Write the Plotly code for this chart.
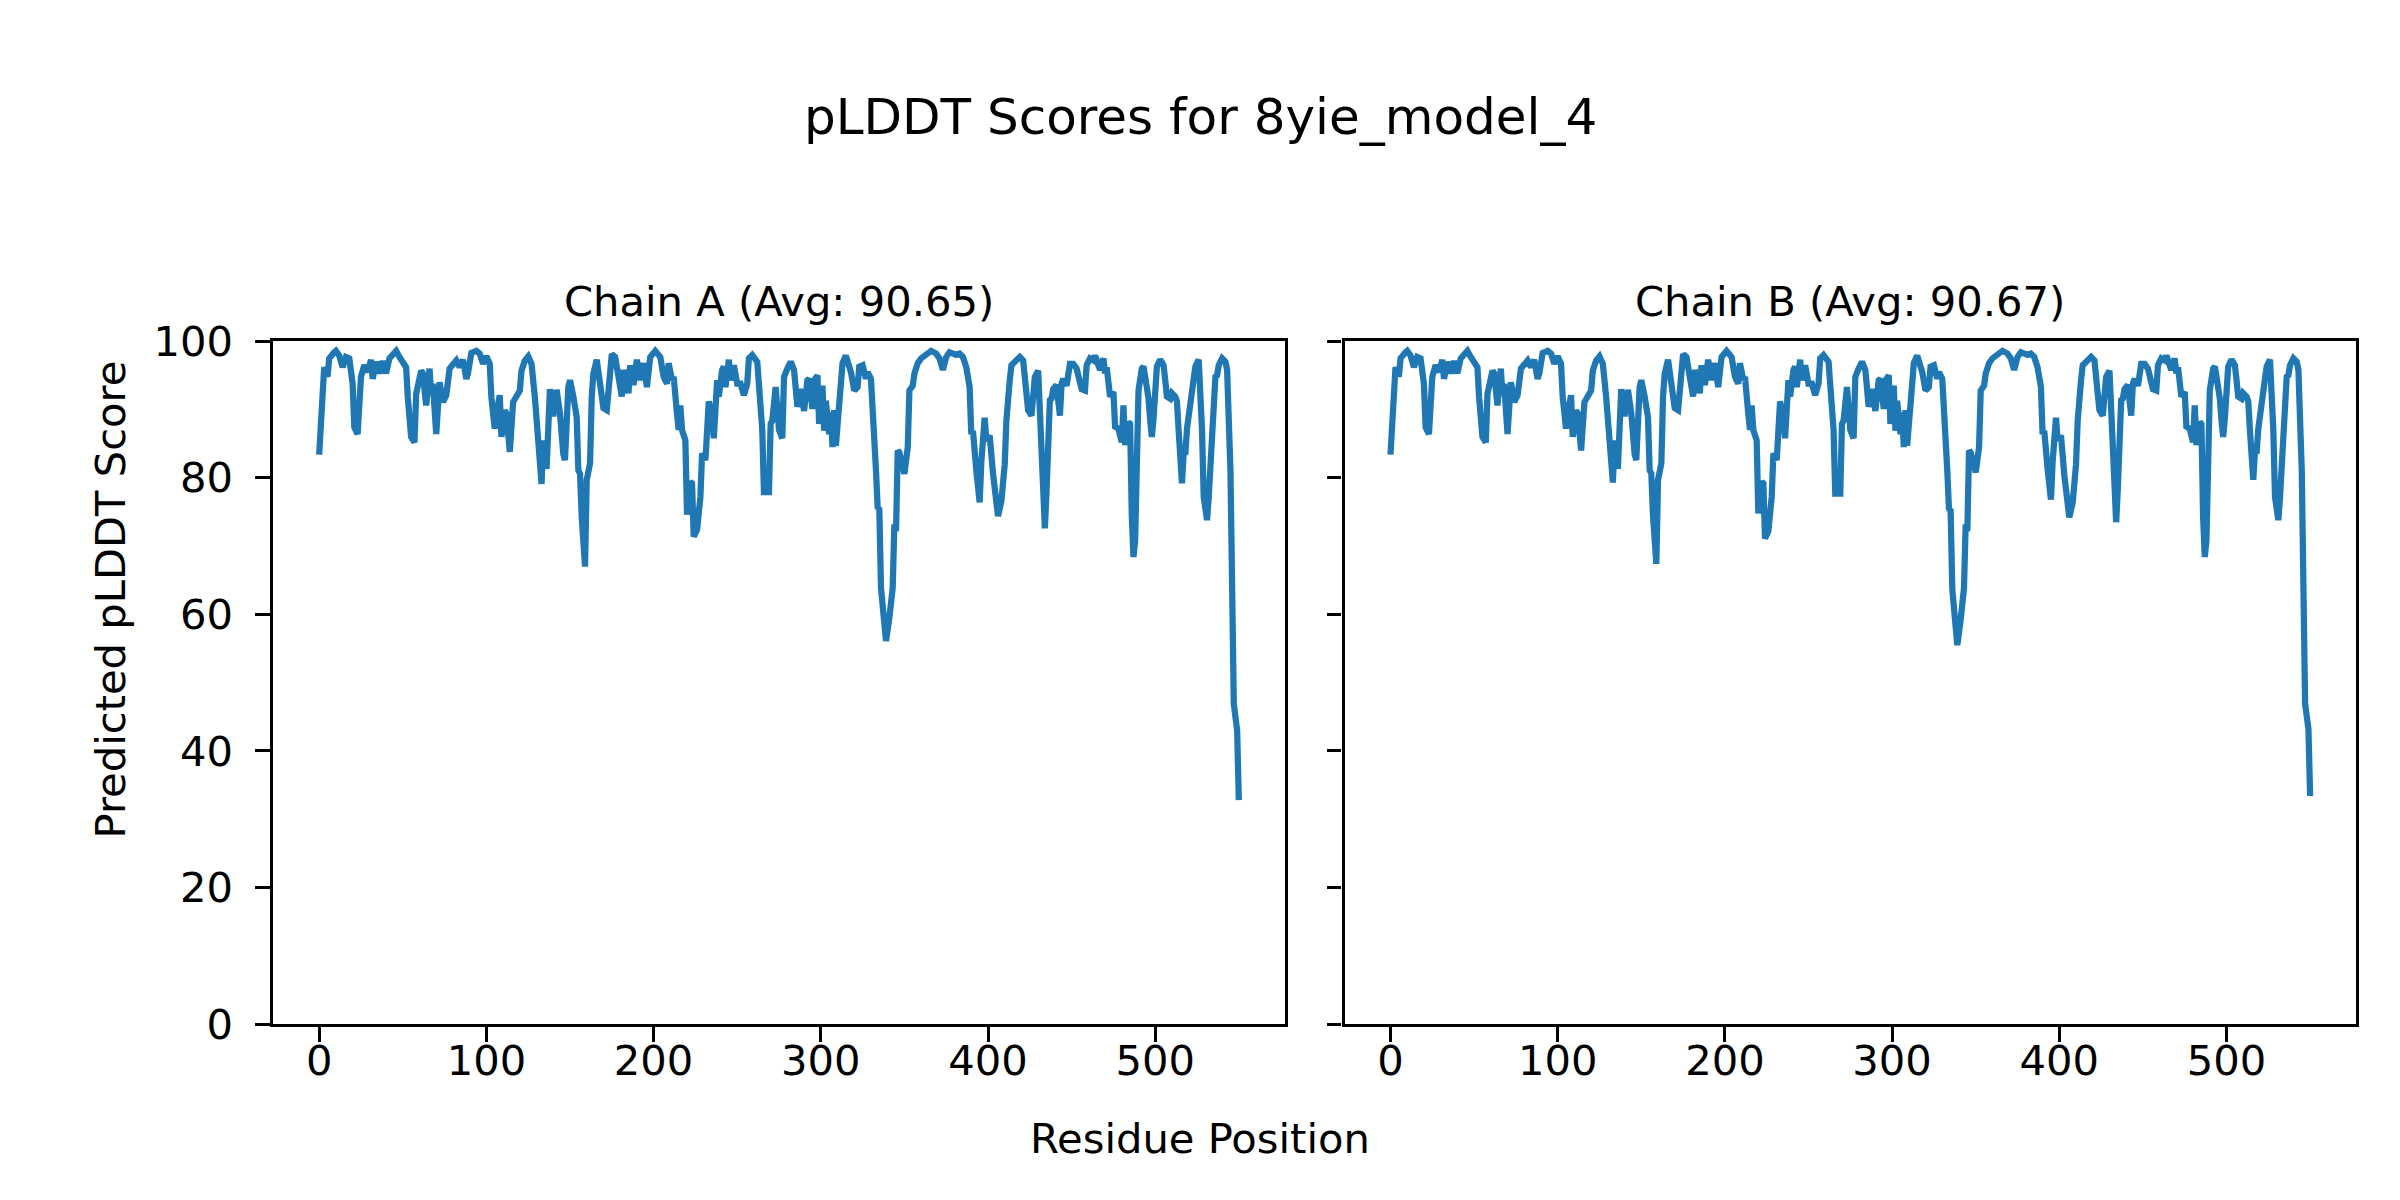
import plotly.graph_objects as go

# ---------------- data ----------------
residue_pos = [
    0, 2, 3, 5, 6, 9, 10, 12, 14, 16, 18, 20, 21, 23, 25, 27, 29, 31, 32, 34,
    36, 38, 40, 42, 46, 48, 50, 52, 53, 55, 57, 58, 61, 62, 64, 66, 67, 68, 70, 72,
    74, 76, 78, 80, 82, 84, 86, 88, 89, 91, 94, 96, 98, 100, 102, 103, 105, 106, 108, 109,
    111, 112, 114, 116, 118, 120, 121, 123, 125, 127, 129, 131, 133, 134, 136, 138, 140, 142, 144, 146,
    147, 149, 150, 152, 154, 155, 156, 157, 159, 160, 162, 163, 164, 166, 167, 169, 170, 172, 174, 175,
    177, 179, 181, 182, 184, 185, 186, 188, 190, 192, 194, 196, 198, 201, 204, 206, 208, 209, 211, 212,
    214, 215, 216, 217, 219, 220, 222, 223, 224, 226, 228, 229, 231, 232, 233, 235, 236, 238, 239, 241,
    242, 243, 245, 246, 248, 250, 252, 254, 256, 257, 259, 262, 263, 265, 266, 268, 269, 270, 271, 273,
    275, 277, 278, 280, 282, 284, 286, 288, 290, 292, 293, 295, 296, 298, 299, 300, 301, 302, 303, 305,
    306, 307, 308, 309, 311, 313, 315, 317, 318, 320, 322, 323, 325, 327, 328, 330, 331, 333, 334, 335,
    336, 337, 339, 341, 343, 344, 345, 346, 347, 350, 352, 353, 355, 356, 358, 360, 363, 366, 369, 371,
    373, 375, 377, 379, 381, 383, 385, 387, 389, 390, 391, 393, 395, 396, 397, 398, 399, 401, 403, 405,
    406, 408, 410, 411, 412, 413, 414, 417, 419, 421, 422, 424, 426, 427, 428, 430, 431, 432, 433, 434,
    435, 436, 437, 438, 439, 441, 442, 443, 444, 445, 447, 448, 449, 451, 453, 454, 456, 458, 459, 461,
    463, 464, 466, 467, 469, 470, 471, 472, 473, 475, 476, 478, 479, 480, 481, 482, 484, 485, 486, 487,
    488, 489, 490, 492, 493, 494, 496, 497, 498, 499, 500, 501, 503, 505, 506, 507, 509, 510, 512, 513,
    514, 515, 516, 517, 518, 519, 521, 523, 524, 526, 527, 528, 529, 530, 531, 532, 534, 535, 536, 537,
    538, 540, 542, 543, 544, 545, 547, 549, 550,
]

plddt_a = [
    83.4, 94.8, 96.2, 94.8, 97.5, 98.4, 98.6, 97.9, 96.2, 97.7, 97.5, 93.8, 87.4, 86.4, 94.8, 96.5, 95.5, 97.3, 94.5, 97.0,
    95.3, 97.1, 95.3, 97.5, 98.6, 97.7, 97.0, 96.2, 91.8, 86.0, 85.2, 92.3, 95.7, 95.3, 90.6, 96.0, 92.1, 93.8, 86.4, 94.0,
    91.1, 92.1, 96.0, 96.7, 97.2, 96.2, 97.3, 94.5, 95.3, 98.3, 98.6, 98.2, 96.7, 97.8, 96.7, 91.8, 87.2, 89.4, 92.1, 86.0,
    89.9, 89.4, 83.8, 91.1, 92.1, 92.8, 95.7, 97.2, 97.8, 96.7, 91.8, 85.5, 79.1, 85.5, 81.3, 93.0, 89.0, 92.9, 89.5, 83.5,
    82.6, 93.3, 94.3, 91.9, 88.9, 81.1, 80.6, 74.3, 67.0, 79.7, 82.1, 91.9, 95.3, 97.3, 95.8, 91.9, 90.2, 89.9, 96.8, 98.1,
    97.7, 94.3, 91.9, 95.8, 93.8, 92.4, 96.5, 93.6, 97.3, 94.3, 96.8, 93.3, 97.7, 98.6, 97.7, 94.8, 93.8, 96.8, 94.3, 94.8,
    89.4, 87.0, 90.6, 87.0, 85.5, 74.6, 79.4, 79.2, 71.4, 72.4, 77.2, 83.6, 82.6, 90.4, 91.2, 88.9, 85.8, 94.3, 91.9, 95.8,
    96.3, 93.3, 97.3, 94.3, 96.5, 93.8, 93.8, 92.1, 93.8, 97.5, 98.0, 97.0, 94.3, 87.0, 77.9, 77.9, 77.9, 87.9, 88.4, 93.3,
    87.0, 85.8, 94.8, 96.0, 97.0, 95.8, 90.4, 93.0, 89.8, 94.3, 94.5, 90.1, 94.3, 95.0, 87.9, 90.4, 93.5, 86.9, 91.3, 86.4,
    89.6, 84.5, 89.9, 84.7, 91.9, 96.8, 97.9, 96.2, 95.5, 92.8, 93.3, 96.3, 96.5, 94.5, 95.5, 94.5, 90.9, 81.1, 75.7, 75.4,
    63.9, 61.0, 56.1, 59.5, 63.9, 73.2, 72.2, 84.0, 83.7, 80.6, 84.5, 92.8, 93.5, 95.3, 96.8, 97.5, 98.1, 98.6, 98.2, 97.5,
    95.8, 97.7, 98.4, 98.1, 98.0, 98.2, 97.7, 96.2, 93.3, 86.4, 86.9, 81.1, 76.4, 82.3, 86.9, 88.8, 85.5, 86.2, 80.6, 75.7,
    74.4, 76.6, 82.0, 88.4, 92.8, 94.3, 96.5, 97.1, 97.7, 97.2, 93.8, 89.9, 89.1, 94.3, 94.8, 95.7, 90.0, 80.0, 74.0, 72.6,
    78.0, 85.0, 91.4, 91.6, 93.0, 93.6, 91.8, 89.1, 93.8, 94.5, 93.5, 95.5, 96.7, 96.7, 96.0, 95.0, 93.0, 92.8, 96.5, 97.5,
    97.2, 97.9, 96.5, 95.8, 97.5, 95.3, 96.2, 93.8, 91.9, 92.6, 87.5, 87.2, 85.5, 85.2, 90.6, 84.8, 88.2, 87.9, 74.3, 68.4,
    70.8, 81.1, 92.8, 96.0, 96.3, 94.8, 91.6, 88.4, 86.0, 88.7, 94.8, 96.3, 97.3, 96.5, 94.3, 91.9, 91.6, 92.4, 91.9, 91.2,
    87.0, 82.1, 79.2, 83.6, 83.4, 87.2, 90.9, 93.8, 96.3, 97.3, 92.9, 87.0, 77.2, 74.0, 73.8, 77.2, 87.0, 93.8, 94.8, 95.0,
    96.5, 97.5, 97.0, 95.8, 89.4, 81.1, 46.9, 43.0, 32.8,
]

plddt_b = [
    83.4, 94.8, 96.2, 94.8, 97.5, 98.4, 98.6, 97.9, 96.2, 97.7, 97.5, 93.8, 87.4, 86.4, 94.8, 96.5, 95.5, 97.3, 94.5, 97.0,
    95.3, 97.1, 95.3, 97.5, 98.6, 97.7, 97.0, 96.2, 91.8, 86.0, 85.2, 92.3, 95.7, 95.3, 90.6, 96.0, 92.1, 93.8, 86.4, 94.0,
    91.1, 92.1, 96.0, 96.7, 97.2, 96.2, 97.3, 94.5, 95.3, 98.3, 98.6, 98.2, 96.7, 97.8, 96.7, 91.8, 87.2, 89.4, 92.1, 86.0,
    89.9, 89.4, 84.0, 91.1, 92.1, 92.8, 95.7, 97.2, 97.8, 96.7, 91.8, 85.5, 79.3, 85.5, 81.3, 93.0, 89.0, 92.9, 89.5, 83.5,
    82.6, 93.3, 94.3, 91.9, 88.9, 81.1, 80.6, 74.5, 67.4, 79.7, 82.1, 91.9, 95.3, 97.3, 95.8, 91.9, 90.2, 89.9, 96.8, 98.1,
    97.7, 94.3, 91.9, 95.8, 93.8, 92.4, 96.5, 93.6, 97.3, 94.3, 96.8, 93.3, 97.7, 98.6, 97.7, 94.8, 93.8, 96.8, 94.3, 94.8,
    89.4, 87.0, 90.6, 87.0, 85.5, 74.8, 79.4, 79.2, 71.1, 72.2, 77.2, 83.6, 82.6, 90.4, 91.2, 88.9, 85.8, 94.3, 91.9, 95.8,
    96.3, 93.3, 97.3, 94.3, 96.5, 93.8, 93.8, 92.1, 93.8, 97.5, 98.0, 97.0, 94.3, 87.0, 77.7, 77.7, 77.7, 87.9, 88.4, 93.3,
    87.0, 85.8, 94.8, 96.0, 97.0, 95.8, 90.4, 93.0, 89.8, 94.3, 94.5, 90.1, 94.3, 95.0, 87.9, 90.4, 93.5, 86.9, 91.3, 86.4,
    89.6, 84.5, 89.9, 84.7, 91.9, 96.8, 97.9, 96.2, 95.5, 92.8, 93.3, 96.3, 96.5, 94.5, 95.5, 94.5, 90.9, 81.1, 75.5, 75.2,
    63.7, 60.8, 55.5, 59.2, 63.9, 73.2, 72.2, 84.0, 83.7, 80.8, 84.5, 92.8, 93.5, 95.3, 96.8, 97.5, 98.1, 98.6, 98.2, 97.5,
    95.8, 97.7, 98.4, 98.1, 98.0, 98.2, 97.7, 96.2, 93.3, 86.4, 86.9, 81.3, 76.8, 82.3, 86.9, 88.8, 85.5, 86.2, 80.4, 75.5,
    74.2, 76.4, 82.0, 88.4, 92.8, 94.3, 96.5, 97.1, 97.7, 97.2, 93.8, 89.9, 89.1, 94.3, 94.8, 95.7, 90.0, 80.3, 74.6, 73.5,
    78.4, 85.0, 91.4, 91.6, 93.0, 93.6, 91.8, 89.1, 93.8, 94.5, 93.5, 95.5, 96.7, 96.7, 96.0, 95.0, 93.0, 92.8, 96.5, 97.5,
    97.2, 97.9, 96.5, 95.8, 97.5, 95.3, 96.2, 93.8, 91.9, 92.6, 87.5, 87.2, 85.5, 85.2, 90.6, 84.8, 88.2, 87.9, 74.3, 68.4,
    70.8, 81.1, 92.8, 96.0, 96.3, 94.8, 91.6, 88.4, 86.0, 88.7, 94.8, 96.3, 97.3, 96.5, 94.3, 91.9, 91.6, 92.4, 91.9, 91.2,
    87.0, 82.5, 79.7, 83.8, 83.6, 87.2, 90.9, 93.8, 96.3, 97.3, 92.9, 87.0, 77.2, 74.0, 73.8, 77.2, 87.0, 93.8, 94.8, 95.0,
    96.5, 97.5, 97.0, 95.8, 89.4, 81.1, 46.9, 43.2, 33.4,
]

chain_titles = ["Chain A (Avg: 90.65)", "Chain B (Avg: 90.67)"]
main_title = "pLDDT Scores for 8yie_model_4"
x_label = "Residue Position"
y_label = "Predicted pLDDT Score"
x_tick_vals = [0, 100, 200, 300, 400, 500]
y_tick_vals = [0, 20, 40, 60, 80, 100]

# ---------------- styling ----------------
W, H = 2400, 1200
OFF = 8.0  # page body margin offset in the photographed window
LINE_COLOR = "#1f77b4"
FONT = "DejaVu Sans"
TICK_SIZE = 41.67
TITLE_SIZE = 41.67
SUPTITLE_SIZE = 50.0
SPINE_W = 3.33


def px_x(p):
    return (p - OFF) / W


def px_y(p):
    return 1 - (p - OFF) / H


dom_x_a = [px_x(273.2), px_x(1284.8)]
dom_x_b = [px_x(1344.5), px_x(2356.1)]
dom_y = [px_y(1024.0), px_y(341.3)]

x_span = max(residue_pos) - min(residue_pos)
x_range = [min(residue_pos) - 0.05 * x_span, max(residue_pos) + 0.05 * x_span]

fig = go.Figure()
fig.add_trace(go.Scatter(x=residue_pos, y=plddt_a, mode="lines",
                         line=dict(color=LINE_COLOR, width=6.25),
                         xaxis="x", yaxis="y", showlegend=False, hoverinfo="skip"))
fig.add_trace(go.Scatter(x=residue_pos, y=plddt_b, mode="lines",
                         line=dict(color=LINE_COLOR, width=6.25),
                         xaxis="x2", yaxis="y2", showlegend=False, hoverinfo="skip"))

common = dict(showline=True, linecolor="black", linewidth=SPINE_W, mirror=True,
              ticks="outside", ticklen=14.6, tickwidth=SPINE_W, tickcolor="black",
              showgrid=False, zeroline=False, automargin=False,
              tickfont=dict(family=FONT, size=TICK_SIZE, color="black"))

fig.update_layout(
    template="none",
    width=W, height=H, autosize=False,
    margin=dict(l=0, r=0, t=0, b=0, pad=0),
    paper_bgcolor="white", plot_bgcolor="white",
    showlegend=False,
    xaxis=dict(domain=dom_x_a, range=x_range, tickvals=x_tick_vals, anchor="y",
               ticklabelstandoff=-17, **common),
    yaxis=dict(domain=dom_y, range=[0, 100], tickvals=y_tick_vals, anchor="x",
               ticklabelstandoff=14, **common),
    xaxis2=dict(domain=dom_x_b, range=x_range, tickvals=x_tick_vals, anchor="y2",
                ticklabelstandoff=-17, **common),
    yaxis2=dict(domain=dom_y, range=[0, 100], tickvals=y_tick_vals, anchor="x2",
                showticklabels=False, **common),
)

ann = []
ann.append(dict(text=main_title, x=0.5 - OFF / W, y=px_y(116.5), xref="paper", yref="paper",
                xanchor="center", yanchor="middle", showarrow=False,
                font=dict(family=FONT, size=SUPTITLE_SIZE, color="black")))
for t, d in zip(chain_titles, [dom_x_a, dom_x_b]):
    ann.append(dict(text=t, x=(d[0] + d[1]) / 2, y=px_y(301.4), xref="paper", yref="paper",
                    xanchor="center", yanchor="middle", showarrow=False,
                    font=dict(family=FONT, size=TITLE_SIZE, color="black")))
ann.append(dict(text=x_label, x=0.5 - OFF / W, y=px_y(1138.0), xref="paper", yref="paper",
                xanchor="center", yanchor="middle", showarrow=False,
                font=dict(family=FONT, size=TICK_SIZE, color="black")))
ann.append(dict(text=y_label, x=px_x(109.5), y=px_y(600.0), xref="paper", yref="paper",
                xanchor="center", yanchor="middle", showarrow=False, textangle=-90,
                font=dict(family=FONT, size=TICK_SIZE, color="black")))
fig.update_layout(annotations=ann)

fig.write_html("out.html")
